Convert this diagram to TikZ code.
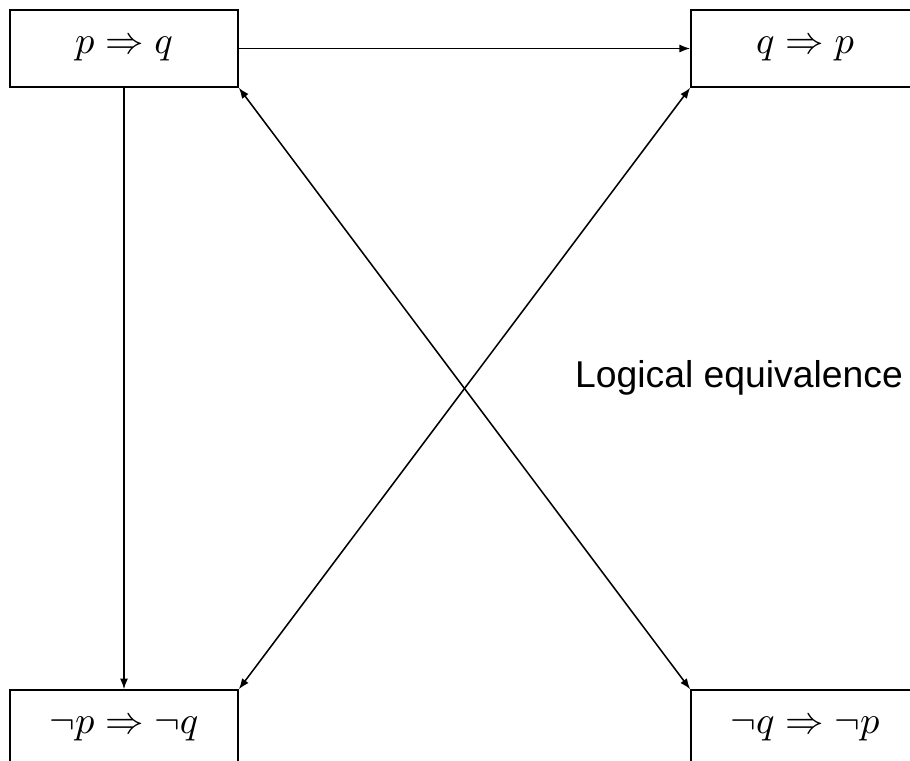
\documentclass[tikz,border=0pt]{standalone}
\usepackage{amsmath,amssymb}
\usepackage{fontspec}
\newfontfamily\labelfont{Liberation Sans}
\usepackage{tikz}
\usetikzlibrary{arrows.meta}
\tikzset{>={Latex[length=2.8pt,width=2.1pt]},stmt/.style={draw,minimum width=59.3pt,minimum height=20pt,inner sep=0pt},arr/.style={->},biarr/.style={<->},eqlabel/.style={font=\labelfont\fontsize{9.7}{11}\selectfont}}

\begin{document}
\begin{tikzpicture}[x=0.26pt,y=-0.26pt]
\useasboundingbox (0,0) rectangle (910,760);
\node[stmt] (pq) at (124,48.5) {$p\Rightarrow q$};
\node[stmt] (qp) at (805,48.5) {$q\Rightarrow p$};
\node[stmt] (npnq) at (124,728.5) {$\neg p\Rightarrow\neg q$};
\node[stmt] (nqnp) at (805,728.5) {$\neg q\Rightarrow\neg p$};
\node[eqlabel] (eq) at (739,378) {Logical equivalence};
\draw[arr] (pq.east) -- (qp.west);
\draw[arr] (pq.south) -- (npnq.north);
\draw[biarr] (pq.south east) -- (nqnp.north west);
\draw[biarr] (qp.south west) -- (npnq.north east);
\end{tikzpicture}
\end{document}
